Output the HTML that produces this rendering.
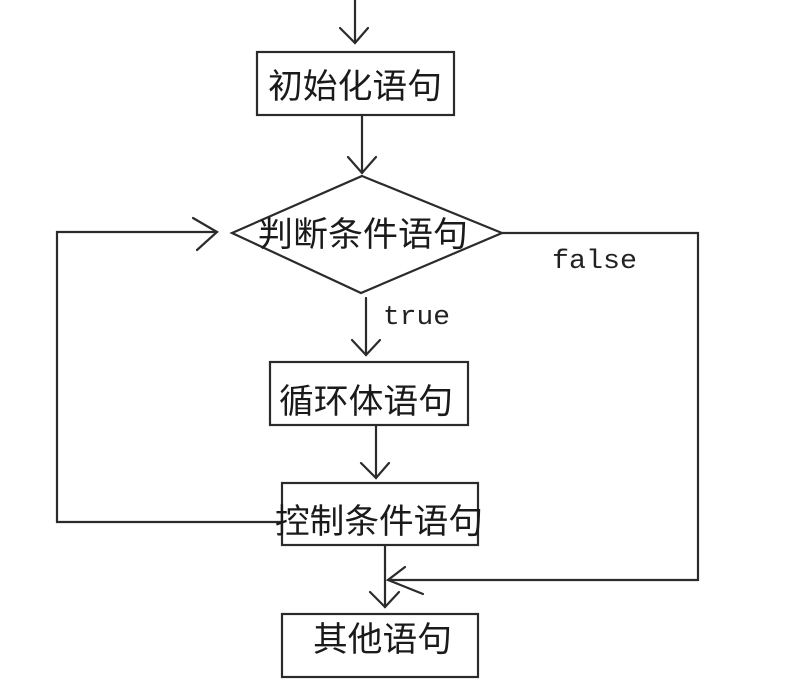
<!DOCTYPE html>
<html>
<head>
<meta charset="utf-8">
<style>
  html, body { margin: 0; padding: 0; background: #ffffff; }
  body { width: 800px; height: 685px; overflow: hidden; }
  svg { display: block; }
  .cjk { font-family: "Liberation Sans", "Noto Sans CJK SC", "WenQuanYi Zen Hei", sans-serif; font-size: 34px; fill: #1a1a1a; }
  .mono { font-family: "Liberation Mono", "DejaVu Sans Mono", monospace; font-size: 27px; fill: #222; }
</style>
</head>
<body>
<svg width="800" height="685" viewBox="0 0 800 685" xmlns="http://www.w3.org/2000/svg">
  <g stroke="#2b2b2b" stroke-width="2.2" fill="none" stroke-linecap="round" stroke-linejoin="miter">
    <!-- top arrow -->
    <line x1="355" y1="0" x2="355" y2="43"/>
    <polyline points="340,28 355,43 368,28"/>
    <!-- box 1 -->
    <rect x="257" y="52" width="197" height="63"/>
    <!-- arrow to diamond -->
    <line x1="362" y1="115" x2="362" y2="173"/>
    <polyline points="348,157 362,173 376,157"/>
    <!-- diamond -->
    <polygon points="362,176 502,233 361,293 232,233"/>
    <!-- true arrow -->
    <line x1="366" y1="298" x2="366" y2="355"/>
    <polyline points="352,340 366,355 380,340"/>
    <!-- box 循环体 -->
    <rect x="270" y="362" width="198" height="63"/>
    <!-- arrow to control -->
    <line x1="376" y1="425" x2="376" y2="478"/>
    <polyline points="361,463 376,478 389,463"/>
    <!-- box 控制 -->
    <rect x="282" y="483" width="196" height="62"/>
    <!-- loop back left -->
    <polyline points="282,522 57,522 57,232 217,232"/>
    <polyline points="193,218 217,232 197,250"/>
    <!-- false path -->
    <polyline points="502,233 698,233 698,580 388,580"/>
    <polyline points="405,567 388,580 423,594"/>
    <!-- arrow to other -->
    <line x1="385" y1="545" x2="385" y2="607"/>
    <polyline points="370,592 385,607 399,592"/>
    <!-- box 其他 -->
    <rect x="282" y="614" width="196" height="63"/>
  </g>
  <text class="cjk" x="268" y="98" textLength="174" lengthAdjust="spacingAndGlyphs">初始化语句</text>
  <text class="cjk" x="258" y="246" textLength="210" lengthAdjust="spacingAndGlyphs">判断条件语句</text>
  <text class="cjk" x="279" y="413" textLength="174" lengthAdjust="spacingAndGlyphs">循环体语句</text>
  <text class="cjk" x="275" y="533" textLength="208" lengthAdjust="spacingAndGlyphs">控制条件语句</text>
  <text class="cjk" x="313" y="651" textLength="139" lengthAdjust="spacingAndGlyphs">其他语句</text>
  <text class="mono" x="552" y="268" textLength="85" lengthAdjust="spacingAndGlyphs">false</text>
  <text class="mono" x="383" y="324" textLength="67" lengthAdjust="spacingAndGlyphs">true</text>
</svg>
</body>
</html>
